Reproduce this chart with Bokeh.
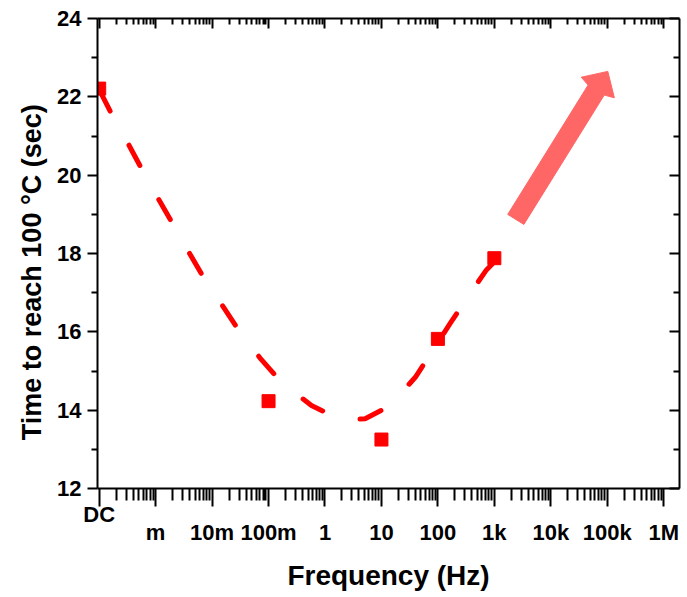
import numpy as np
from bokeh.plotting import figure
from bokeh.models import FixedTicker, LinearAxis
from bokeh.embed import file_html
from bokeh.resources import INLINE

# ---- data (x in log10(Hz); DC drawn one decade below 1 mHz) ----
freq_decades = [-3, -2, -1, 0, 1, 2, 3, 4, 5, 6]
freq_labels = ["m", "10m", "100m", "1", "10", "100", "1k", "10k", "100k", "1M"]
dc_position = -4
dc_label = "DC"

point_x = [-4, -1, 1, 2, 3]
point_y = [22.21, 14.23, 13.25, 15.82, 17.88]

curve_x = [-3.99, -3.79, -3.50, -3.27, -2.97, -2.73, -2.43, -2.18, -1.83, -1.55,
           -1.15, -0.77, -0.24, 0.18, 0.44, 0.71, 1.14, 1.60, 1.87, 2.22, 2.50,
           2.86, 2.99]
curve_y = [22.16, 21.59, 20.84, 20.22, 19.44, 18.84, 18.08, 17.46, 16.70, 16.09,
           15.33, 14.71, 14.12, 13.82, 13.76, 13.78, 14.10, 14.84, 15.44, 16.22,
           16.83, 17.58, 17.77]

arrow_tail = (3.38, 18.87)
arrow_tip = (5.01, 22.65)

y_ticks = [12, 14, 16, 18, 20, 22, 24]
y_minor = [13, 15, 17, 19, 21, 23]

X0, X1 = -4.03, 6.28
Y0, Y1 = 12, 24
W, H = 687, 597
BL, BR, BT, BB = 97, 8, 18, 109
FW, FH = W - BL - BR, H - BT - BB

FONT = "Liberation Sans"
NBSP = "\u00a0"

p = figure(width=W, height=H, x_range=(X0, X1), y_range=(Y0, Y1),
           output_backend="svg", toolbar_location=None,
           min_border_left=BL, min_border_right=BR, min_border_top=BT,
           min_border_bottom=BB, background_fill_color="white",
           border_fill_color="white")
p.grid.visible = False
p.outline_line_color = None

x_minor = [n + np.log10(k) for n in range(dc_position, 7) for k in range(2, 10)]
x_minor = [float(v) for v in x_minor if v <= X1]
x_ticker = FixedTicker(ticks=[dc_position] + freq_decades, minor_ticks=x_minor)
y_ticker = FixedTicker(ticks=y_ticks, minor_ticks=y_minor)


def style(ax):
    ax.axis_line_width = 2
    ax.axis_line_color = "black"
    ax.major_tick_line_width = 2
    ax.minor_tick_line_width = 2
    ax.major_tick_line_color = "black"
    ax.minor_tick_line_color = "black"
    ax.major_label_text_font = FONT
    ax.major_label_text_font_style = "bold"
    ax.major_label_text_color = "black"
    ax.axis_label_text_font = FONT
    ax.axis_label_text_font_style = "bold"
    ax.axis_label_text_color = "black"


# bottom axis 1: tick marks + the "DC" label (sits closer to the axis)
xa = p.xaxis[0]
xa.ticker = x_ticker
overrides1 = {d: "" for d in freq_decades}
overrides1[dc_position] = dc_label
xa.major_label_overrides = overrides1
style(xa)
xa.major_tick_out = 18
xa.major_tick_in = 0
xa.minor_tick_out = 12
xa.minor_tick_in = 0
xa.major_label_text_font_size = "22px"
xa.major_label_standoff = -5

# bottom axis 2: decade labels + title, no line / ticks
xb = LinearAxis(ticker=FixedTicker(ticks=freq_decades, minor_ticks=[]))
style(xb)
xb.axis_line_color = None
xb.major_tick_line_color = None
xb.minor_tick_line_color = None
xb.major_tick_out = 0
xb.major_tick_in = 0
xb.minor_tick_out = 0
xb.minor_tick_in = 0
xb.major_label_overrides = {d: l for d, l in zip(freq_decades, freq_labels)}
xb.major_label_text_font_size = "22px"
xb.major_label_standoff = -10
xb.axis_label = "Frequency (Hz)"
xb.axis_label_text_font_size = "28px"
xb.axis_label_standoff = 12
p.add_layout(xb, "below")

ya = p.yaxis[0]
ya.ticker = y_ticker
style(ya)
ya.major_tick_out = 10
ya.major_tick_in = 0
ya.minor_tick_out = 6
ya.minor_tick_in = 0
ya.major_label_text_font_size = "22px"
ya.major_label_standoff = 6
ya.axis_label = "Time to reach 100 \u00b0C (sec)" + NBSP * 5
ya.axis_label_text_font_size = "27px"
ya.axis_label_standoff = 7

top = LinearAxis(ticker=x_ticker)
style(top)
top.major_tick_in = 10
top.major_tick_out = 0
top.minor_tick_in = 6
top.minor_tick_out = 0
top.major_label_text_font_size = "0px"
top.major_label_standoff = 0
p.add_layout(top, "above")

right = LinearAxis(ticker=y_ticker)
style(right)
right.major_tick_in = 10
right.major_tick_out = 0
right.minor_tick_in = 6
right.minor_tick_out = 0
right.major_label_text_font_size = "0px"
right.major_label_standoff = 0
p.add_layout(right, "right")

# fitted dashed curve
p.line(curve_x, curve_y, line_color="#FF0000", line_width=5,
       line_dash="23 39", line_cap="round")

# measured points
p.scatter(point_x, point_y, marker="square", size=13, fill_color="#FF0000",
          line_color="#FF0000")

# arrow (built in pixel space, converted back to data)
sx = FW / (X1 - X0)
sy = FH / (Y1 - Y0)
t = np.array([arrow_tail[0] * sx, arrow_tail[1] * sy])
h = np.array([arrow_tip[0] * sx, arrow_tip[1] * sy])
u = (h - t) / np.linalg.norm(h - t)
n = np.array([-u[1], u[0]])
hw, head_w, head_l, junc = 9.5, 19.5, 19.0, 22.0
pts = [t + hw * n, h - junc * u + hw * n, h - head_l * u + head_w * n, h,
       h - head_l * u - head_w * n, h - junc * u - hw * n, t - hw * n]
ax_ = [q[0] / sx for q in pts]
ay_ = [q[1] / sy for q in pts]
p.patch(ax_, ay_, fill_color="#FF6666", line_color="#FF6666", line_width=1)

open("out.html", "w").write(file_html(p, INLINE))
